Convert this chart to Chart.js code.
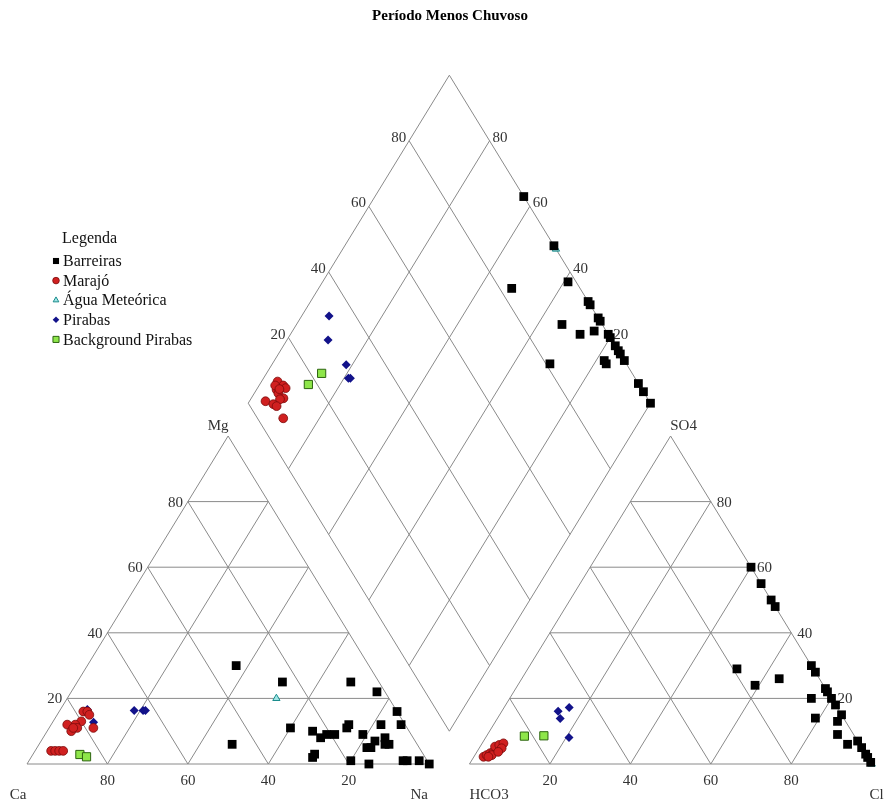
<!DOCTYPE html>
<html>
<head>
<meta charset="utf-8">
<script src="https://cdn.jsdelivr.net/npm/chart.js@4.4.0/dist/chart.umd.min.js"></script>
<style>
  body { margin: 0; background: #fff; }
  #wrap { width: 890px; height: 805px; }
</style>
</head>
<body>
<div id="wrap"><canvas id="piper" width="890" height="805"></canvas></div>
<script>
const chartTitle = 'Período Menos Chuvoso';
const seriesNames = ['Barreiras', 'Marajó', 'Água Meteórica', 'Pirabas', 'Background Pirabas'];
const tickValues = [20, 40, 60, 80];

// cation triangle, % [Ca, Mg, Na+K]
const barreirasCat = [
  [33, 30, 37], [46, 6, 48], [24, 25, 51], [7, 25, 68], [2, 22, 76], [0, 16, 84],
  [29, 11, 60], [24, 10, 66], [23, 8, 69], [21, 9, 70], [19, 9, 72], [15, 11, 74],
  [14, 12, 74], [12, 9, 79], [6, 12, 82], [1, 12, 87], [7, 8, 85], [7, 6, 87],
  [8, 6, 86], [10, 7, 83], [13, 5, 82], [12, 5, 83], [27, 3, 70], [28, 2, 70],
  [19, 1, 80], [15, 0, 85], [6, 1, 93], [5, 1, 94], [2, 1, 97], [0, 0, 100]
];
const marajoCat = [
  [78, 16, 6], [77, 16, 7], [77, 15, 8], [80, 13, 7], [82, 12, 6], [84, 12, 4],
  [84, 10, 6], [82, 11, 7], [78, 11, 11], [83, 11, 6],
  [92, 4, 4], [91, 4, 5], [90, 4, 6], [89, 4, 7]
];
const aguaCat = [[28, 20, 52]];
const pirabasCat = [[76.7, 16.6, 6.7], [77.1, 12.7, 10.2], [65.2, 16.3, 18.5], [63, 16.3, 20.7], [62.4, 16.3, 21.3]];
const backgroundCat = [[85.4, 2.9, 11.7], [84.1, 2.2, 13.7]];

// anion triangle, % [HCO3, SO4, Cl]
const barreirasAn = [
  [0, 60, 40], [0, 55, 45], [0, 50, 50], [0, 48, 52], [19, 29, 52], [17, 24, 59],
  [10, 26, 64], [0, 30, 70], [0, 28, 72], [0, 23, 77], [0, 22, 78], [0, 20, 80],
  [5, 20, 75], [0, 18, 82], [0, 15, 85], [7, 14, 79], [2, 13, 85], [4, 9, 87],
  [3, 6, 91], [0, 7, 93], [0, 5, 95], [0, 3, 97], [0, 2, 98], [0, 0.5, 99.5]
];
const marajoAn = [
  [95.4, 2.2, 2.4], [94.4, 2.7, 2.9], [93.2, 3.3, 3.5], [92.3, 3.6, 4.1], [91.1, 4.3, 4.6],
  [91.0, 5.3, 3.7], [89.7, 5.8, 4.5], [88.4, 6.3, 5.3], [89.6, 4.8, 5.6], [93.1, 2.7, 4.2],
  [94.2, 2.2, 3.6], [91.0, 3.7, 5.3]
];
const aguaAn = [[0, 0, 100]];
const pirabasAn = [[69.9, 16.1, 14.0], [66.6, 17.2, 16.2], [70.5, 13.9, 15.6], [71.2, 8.1, 20.7]];
const backgroundAn = [[82.1, 8.5, 9.4], [77.2, 8.6, 14.2]];

// diamond, % [Ca+Mg, SO4+Cl]
const barreirasDia = [
  [63, 100], [48, 100], [39, 98], [52, 83], [31, 100], [30, 100], [26, 100], [25, 100],
  [34, 90], [28, 93], [25, 97], [21, 100], [20, 100], [17.5, 100], [16, 100], [15, 100],
  [13, 100], [18, 95], [17, 95], [31, 81], [6, 100], [3.5, 100], [0, 100]
];
const marajoDia = [
  [96, 10.6], [94, 11.4], [93, 11.6], [95, 9.1], [94, 9], [92, 9.5], [92.7, 8.5],
  [96, 4.6], [93.6, 6.1], [92.5, 6.6], [89, 6.4], [96, 9.4], [94.4, 9.9]
];
const aguaDia = [[47, 100]];
const pirabasDia = [[93.2, 33.4], [89.8, 29.5], [81.5, 30.2], [78.9, 28.7], [78.4, 29.2]];
const backgroundDia = [[86.3, 22.8], [87.9, 17.8]];

// geometry: side of a triangle = 100, gap between triangles = 10,
// y is measured in % of triangle height
const GAP = 10;
function catXY(p) {
  const t = p[0] + p[1] + p[2];
  const mg = p[1] / t * 100, na = p[2] / t * 100;
  return { x: na + mg / 2, y: mg };
}
function anXY(p) {
  const t = p[0] + p[1] + p[2];
  const so4 = p[1] / t * 100, cl = p[2] / t * 100;
  return { x: 100 + GAP + cl + so4 / 2, y: so4 };
}
function diaXY(p) {
  return { x: 100 + GAP / 2 + (p[1] - p[0]) / 2, y: GAP + p[0] + p[1] };
}
function allPoints(cat, an, dia) {
  return cat.map(catXY).concat(an.map(anXY), dia.map(diaXY));
}

const styles = [
  { pointStyle: 'rect', radius: 6.2, fill: '#000000', border: '#000000', bw: 0 },
  { pointStyle: 'circle', radius: 4.4, fill: '#d02020', border: '#7a0a0a', bw: 0.8 },
  { pointStyle: 'triangle', radius: 4.2, fill: '#9fe6e6', border: '#1b8c8c', bw: 1 },
  { pointStyle: 'rectRot', radius: 4.5, fill: '#12128a', border: '#12128a', bw: 0 },
  { pointStyle: 'rect', radius: 5.8, fill: '#8ee64a', border: '#2d6410', bw: 1 }
];
const pointSets = [
  allPoints(barreirasCat, barreirasAn, barreirasDia),
  allPoints(marajoCat, marajoAn, marajoDia),
  allPoints(aguaCat, aguaAn, aguaDia),
  allPoints(pirabasCat, pirabasAn, pirabasDia),
  allPoints(backgroundCat, backgroundAn, backgroundDia)
];

const datasets = seriesNames.map((name, i) => ({
  label: name,
  data: pointSets[i],
  showLine: false,
  clip: false,
  pointStyle: styles[i].pointStyle,
  pointRadius: styles[i].radius,
  pointHoverRadius: styles[i].radius,
  pointBackgroundColor: styles[i].fill,
  pointBorderColor: styles[i].border,
  pointBorderWidth: styles[i].bw
}));

function drawMarker(ctx, st, x, y, r) {
  ctx.fillStyle = st.fill;
  ctx.strokeStyle = st.border;
  ctx.lineWidth = st.bw;
  Chart.helpers.drawPoint(ctx, { pointStyle: st.pointStyle, radius: r, rotation: 0, borderWidth: st.bw }, x, y);
}

// frame, grid, tick labels, title and legend
const piperFrame = {
  id: 'piperFrame',
  beforeDatasetsDraw(chart) {
    const ctx = chart.ctx;
    const X = v => chart.scales.x.getPixelForValue(v);
    const Y = v => chart.scales.y.getPixelForValue(v);
    const seg = (a, b) => { ctx.moveTo(X(a.x), Y(a.y)); ctx.lineTo(X(b.x), Y(b.y)); };

    ctx.save();
    ctx.strokeStyle = '#8a8a8a';
    ctx.lineWidth = 1;
    ctx.beginPath();
    // cation triangle
    seg(catXY([100, 0, 0]), catXY([0, 0, 100]));
    seg(catXY([0, 0, 100]), catXY([0, 100, 0]));
    seg(catXY([0, 100, 0]), catXY([100, 0, 0]));
    // anion triangle
    seg(anXY([100, 0, 0]), anXY([0, 0, 100]));
    seg(anXY([0, 0, 100]), anXY([0, 100, 0]));
    seg(anXY([0, 100, 0]), anXY([100, 0, 0]));
    // diamond
    seg(diaXY([0, 0]), diaXY([0, 100]));
    seg(diaXY([0, 100]), diaXY([100, 100]));
    seg(diaXY([100, 100]), diaXY([100, 0]));
    seg(diaXY([100, 0]), diaXY([0, 0]));
    tickValues.forEach(t => {
      seg(catXY([100 - t, t, 0]), catXY([0, t, 100 - t]));
      seg(catXY([100 - t, 0, t]), catXY([0, 100 - t, t]));
      seg(catXY([t, 0, 100 - t]), catXY([t, 100 - t, 0]));
      seg(anXY([100 - t, t, 0]), anXY([0, t, 100 - t]));
      seg(anXY([100 - t, 0, t]), anXY([0, 100 - t, t]));
      seg(anXY([t, 0, 100 - t]), anXY([t, 100 - t, 0]));
      seg(diaXY([t, 0]), diaXY([t, 100]));
      seg(diaXY([0, t]), diaXY([100, t]));
    });
    ctx.stroke();

    ctx.fillStyle = '#333333';
    ctx.font = '15px "Liberation Serif", "Times New Roman", serif';
    const text = (s, p, dx, dy, align) => {
      ctx.textAlign = align;
      ctx.textBaseline = 'middle';
      ctx.fillText(s, X(p.x) + dx, Y(p.y) + dy);
    };
    tickValues.forEach(t => {
      text(String(t), catXY([t, 0, 100 - t]), 0, 17, 'center');
      text(String(t), catXY([100 - t, t, 0]), -5, 1, 'right');
      text(String(t), anXY([100 - t, 0, t]), 0, 17, 'center');
      text(String(t), anXY([0, t, 100 - t]), 6, 1, 'left');
      text(String(t), diaXY([100, t]), -3, -3, 'right');
      text(String(t), diaXY([t, 100]), 3, -3, 'left');
    });
    text('Ca', catXY([100, 0, 0]), -9, 31, 'center');
    text('Na', catXY([0, 0, 100]), -10, 31, 'center');
    text('Mg', catXY([0, 100, 0]), -10, -10, 'center');
    text('HCO3', anXY([100, 0, 0]), 0, 31, 'left');
    text('Cl', anXY([0, 0, 100]), 5, 31, 'center');
    text('SO4', anXY([0, 100, 0]), 13, -10, 'center');
    ctx.restore();
  },
  afterDraw(chart) {
    const ctx = chart.ctx;
    ctx.save();
    ctx.fillStyle = '#000000';
    ctx.font = 'bold 15px "Liberation Serif", "Times New Roman", serif';
    ctx.textAlign = 'center';
    ctx.textBaseline = 'middle';
    ctx.fillText(chartTitle, 450, 16);

    ctx.font = '16px "Liberation Serif", "Times New Roman", serif';
    ctx.textAlign = 'left';
    ctx.fillStyle = '#111111';
    ctx.fillText('Legenda', 62, 239);
    seriesNames.forEach((name, i) => {
      const y = 261 + i * 19.6;
      const st = styles[i];
      ctx.save();
      drawMarker(ctx, st, 56, y, st.pointStyle === 'rect' ? 4.3 : 3.3);
      ctx.restore();
      ctx.fillStyle = '#111111';
      ctx.fillText(name, 63, y + 1);
    });
    ctx.restore();
  }
};

new Chart(document.getElementById('piper').getContext('2d'), {
  type: 'scatter',
  data: { datasets },
  options: {
    responsive: false,
    animation: false,
    devicePixelRatio: 1,
    layout: { padding: { left: 27, right: 18.3, top: 75.2, bottom: 41 } },
    scales: {
      x: { type: 'linear', min: 0, max: 210, display: false },
      y: { type: 'linear', min: 0, max: 210, display: false }
    },
    plugins: {
      legend: { display: false },
      tooltip: { enabled: false },
      title: { display: false }
    }
  },
  plugins: [piperFrame]
});
</script>
</body>
</html>
